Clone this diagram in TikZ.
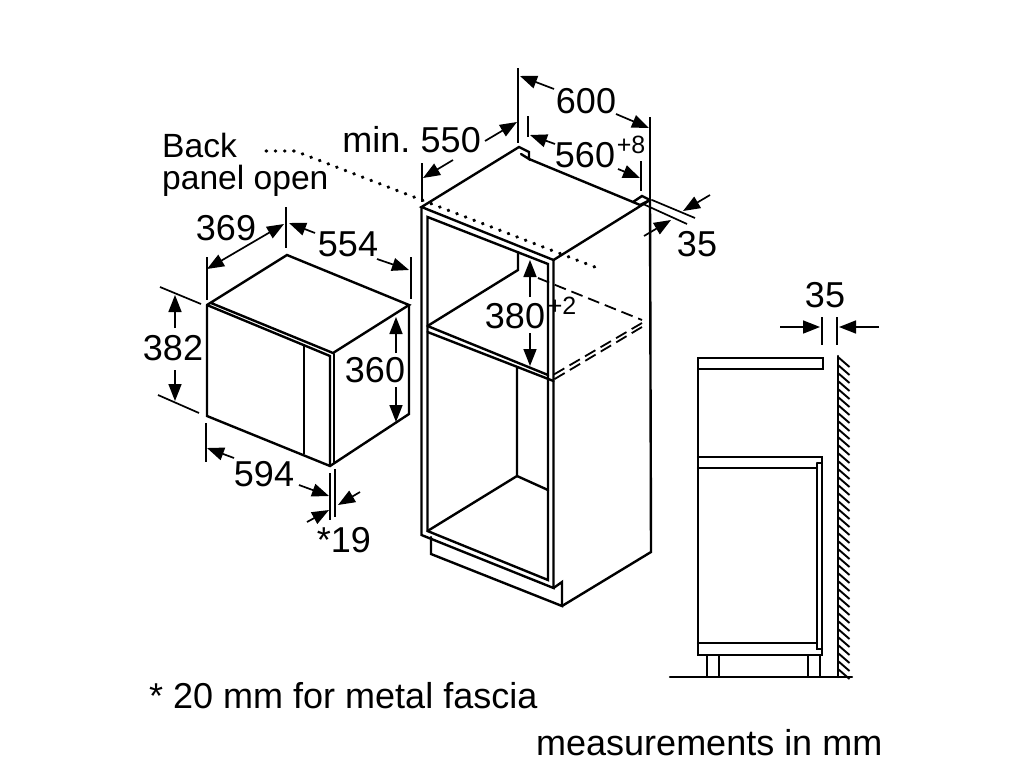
\documentclass[tikz,border=0pt]{standalone}
\usepackage{fontspec}
\setmainfont{Liberation Sans}
\usetikzlibrary{arrows.meta}
\tikzset{
  heavy/.style={line width=2.4pt,line join=miter,line cap=round},
  thin line/.style={line width=1.7pt},
  tipshape/.tip={Triangle[length=17pt,width=13pt]},
  dimarrow/.style={line width=1.7pt,-tipshape},
  dimboth/.style={line width=1.7pt,tipshape-tipshape},
  dimtext/.style={font=\fontsize{36}{36}\selectfont,inner sep=0pt,text=black},
  labeltext/.style={font=\fontsize{33.6}{34}\selectfont,inner sep=0pt,text=black},
  suptext/.style={font=\fontsize{25}{25}\selectfont,inner sep=0pt},
  dash heavy/.style={line width=1.8pt,dash pattern=on 12pt off 6pt},
  dotline/.style={line width=3.3pt,line cap=round,dash pattern=on 0.6pt off 8.6pt},
}
\begin{document}
\begin{tikzpicture}[x=1pt,y=-1pt]
\useasboundingbox (0,0) rectangle (1024,768);
% ===== microwave =====
\draw[heavy] (207,305) -- (287,255) -- (409,305) -- (333,353) -- (211,303);
\draw[heavy] (207,305) -- (207,416) -- (330,466) -- (409,414) -- (409,305);
\draw[heavy] (207,305) -- (330,356) -- (330,466);
\draw[heavy] (334,354) -- (334,463);
\draw[line width=2pt] (304,345) -- (304,454);
% microwave extension lines
\draw[thin line] (207,257) -- (207,300);
\draw[thin line] (286,207) -- (286,248);
\draw[thin line] (411,257) -- (411,299);
\draw[thin line] (160,287) -- (201,304);
\draw[thin line] (158,395) -- (199,413);
\draw[thin line] (206,423) -- (206,462);
\draw[thin line] (330,473) -- (330,520);
\draw[thin line] (335,469) -- (335,517);
% microwave dimensions
\draw[dimboth] (207,269) -- (284,224);
\draw[dimarrow] (315,233) -- (289,223);
\draw[dimarrow] (377,259) -- (409,270);
\draw[dimarrow] (175,328) -- (175,295);
\draw[dimarrow] (175,370) -- (175,401);
\draw[dimarrow] (396,353) -- (396,317);
\draw[dimarrow] (396,387) -- (396,422);
\draw[dimarrow] (234,458) -- (207,448);
\draw[dimarrow] (299,485) -- (329,496);
\draw[dimarrow] (360,492) -- (338,505);
\draw[dimarrow] (307,522) -- (329,510);
\node[dimtext] (t369) at (226,228) {369};
\node[dimtext] (t554) at (348,244) {554};
\node[dimtext] (t382) at (173,348) {382};
\node[dimtext] (t360) at (375,370) {360};
\node[dimtext] (t594) at (264,474) {594};
\node[dimtext] (t19) at (344,540) {*19};
% ===== cabinet =====
\draw[heavy] (553.5,260) -- (421.5,207) -- (519,147) -- (529,152) -- (529,159) -- (521,154);
\draw[heavy] (529,159) -- (633,202) -- (642,196) -- (650,200) -- (553.5,260);
\draw[heavy] (633,202) -- (640,205) -- (650,200);
\draw[heavy] (421.5,207) -- (421.5,535) -- (553.5,588) -- (553.5,260);
\draw[heavy] (427.5,217) -- (427.5,531) -- (548,580) -- (548,264) -- cycle;
\draw[heavy] (518,252) -- (518,270) -- (427.5,326);
\draw[heavy] (427.5,326) -- (548,375);
\draw[heavy] (427.5,332) -- (553.5,381);
\draw[heavy] (517,368) -- (517,476) -- (427.5,531);
\draw[heavy] (517,476) -- (548,490);
\draw[heavy] (431,537) -- (431,554) -- (562,606) -- (562,582) -- (553.5,588);
\draw[heavy] (562,606) -- (651,552) -- (650,200);
% dashed shelf
\draw[dash heavy] (538,278) -- (642,320);
\draw[dash heavy] (642,323) -- (553,375);
\draw[dash heavy] (642,327) -- (553,380);
% dotted leader
\draw[dotline] (266,151) -- (295,151) -- (600,269);
% cabinet extension lines
\draw[thin line] (518,68) -- (518,143);
\draw[thin line] (650,117) -- (650,200);
\draw[thin line] (528,116) -- (528,137);
\draw[thin line] (641,161) -- (641,191);
\draw[thin line] (422,163) -- (422,202);
\draw[thin line] (652,200) -- (695,218);
\draw[thin line] (643,204) -- (687,224);
% cabinet dimensions
\draw[dimarrow] (554,89) -- (520,76);
\draw[dimarrow] (616,114) -- (649,128);
\draw[dimarrow] (555,144) -- (530,135);
\draw[dimarrow] (618,169) -- (640,178);
\draw[dimarrow] (485,141) -- (517,122);
\draw[dimarrow] (453,160) -- (423,178);
\draw[dimarrow] (710,195) -- (683,211);
\draw[dimarrow] (644,236) -- (671,220);
\draw[dimarrow] (530,297) -- (530,260);
\draw[dimarrow] (530,333) -- (530,366);
\node[dimtext] (t600) at (586,101) {600};
\node[dimtext] (t560) at (585,155) {560};
\node[suptext] (t8) at (631,145) {+8};
\node[dimtext,anchor=base east] (t550) at (481,152) {min.\hspace{-3pt} 550};
\node[dimtext] (t35a) at (697,244) {35};
\node[dimtext] (t380) at (515,316) {380};
\node[suptext] (t2) at (562,306) {+2};
% ===== side view =====
\draw[heavy] (698,369) -- (698,358) -- (823,358) -- (823,369) -- cycle;
\draw[heavy] (698,369) -- (698,655) -- (822,655) -- (822,457) -- (698,457);
\draw[heavy] (698,468) -- (817,468);
\draw[line width=1.7pt] (817,463) -- (822,463);
\draw[heavy] (817,463) -- (817,649) -- (822,649);
\draw[heavy] (698,643) -- (817,643);
\draw[line width=2.2pt] (707,655) -- (707,677) (719,655) -- (719,677) (808,655) -- (808,677) (820,655) -- (820,677);
\draw[heavy] (670,677) -- (852,677);
\draw[heavy] (838,356) -- (838,677);
\foreach \y in {357,365,...,669} \draw[line width=1.9pt] (838,\y) -- (849.5,\y+10);
% side dimensions
\draw[thin line] (822,317) -- (822,345);
\draw[thin line] (837,317) -- (837,345);
\draw[dimarrow] (780,327) -- (820,327);
\draw[dimarrow] (879,327) -- (839,327);
\node[dimtext] (t35b) at (825,295) {35};
% ===== texts =====
\node[labeltext,anchor=base west] (back) at (162,157) {Back};
\node[labeltext,anchor=base west] (panel) at (162,189) {panel open};
\node[dimtext,anchor=base west] (note) at (149,708) {* 20 mm for metal fascia};
\node[dimtext,anchor=base west] (meas) at (536,755) {measurements in mm};
\end{tikzpicture}
\end{document}
